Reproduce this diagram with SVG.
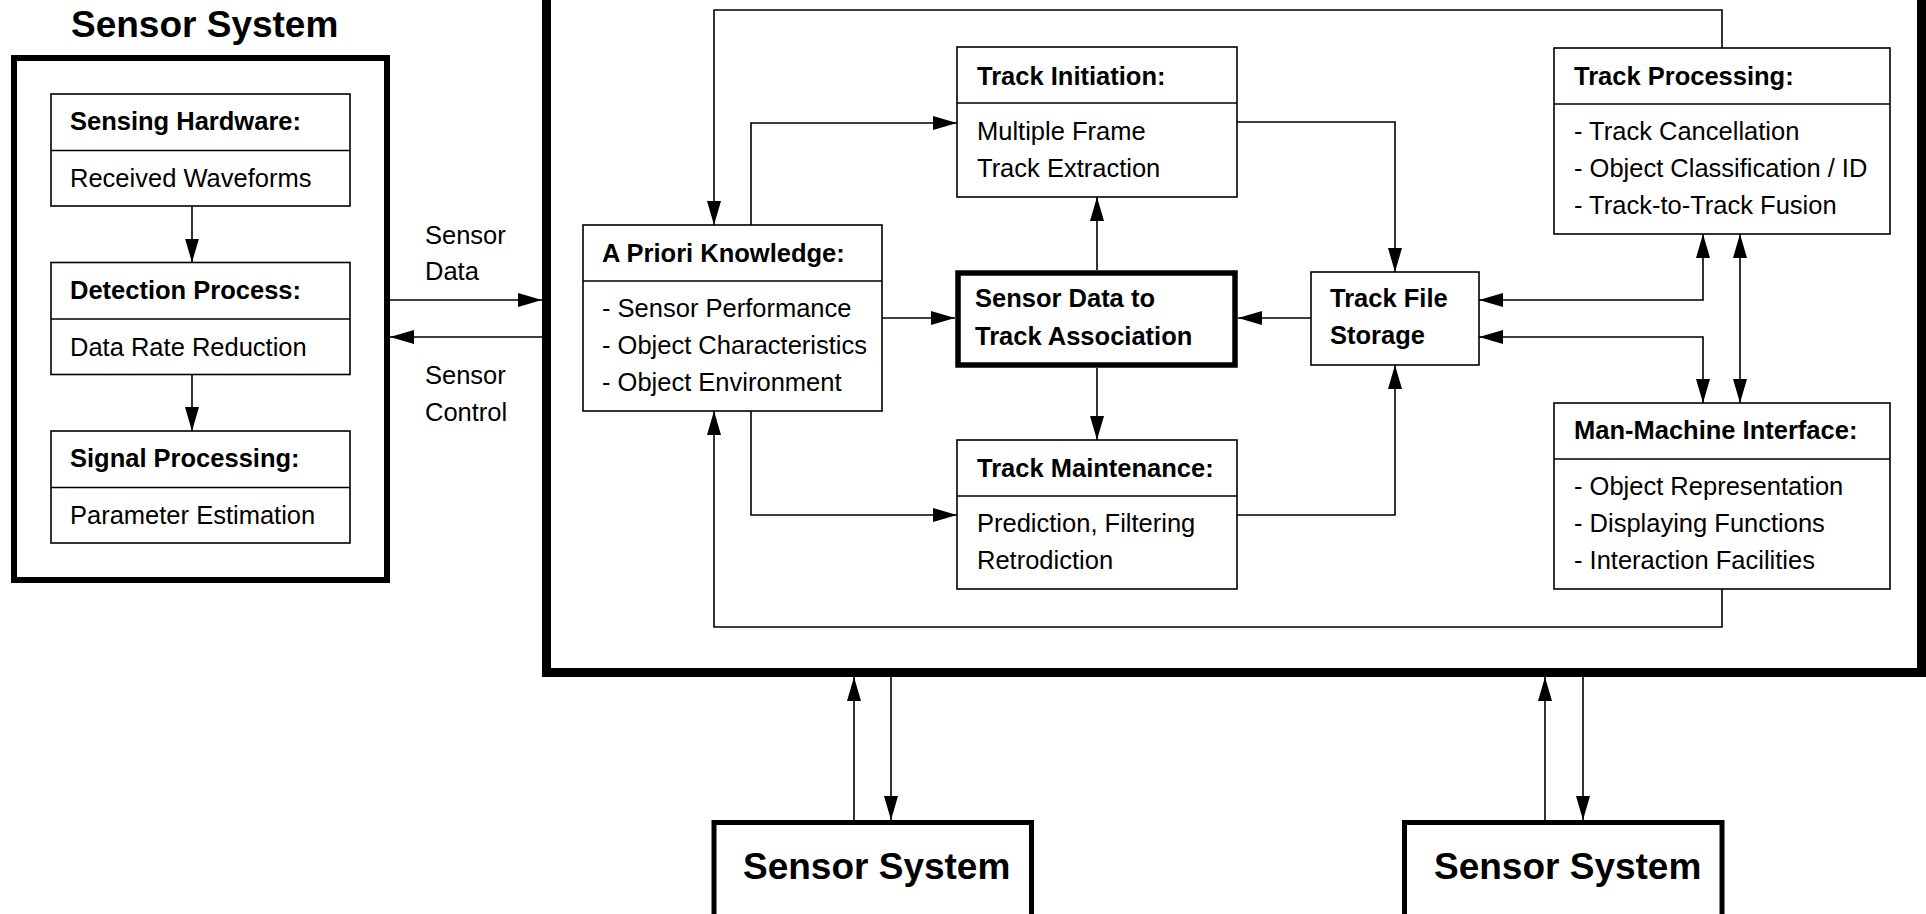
<svg xmlns="http://www.w3.org/2000/svg" width="1926" height="914" viewBox="0 0 1926 914">
<style>
.box{fill:#fff;stroke:#000;stroke-width:1.6}
.div{stroke:#000;stroke-width:1.6}
.thick{fill:none;stroke:#000}
.b{font-family:"Liberation Sans",Arial,Helvetica,sans-serif;font-weight:bold;font-size:25.5px;fill:#000}
.r{font-family:"Liberation Sans",Arial,Helvetica,sans-serif;font-size:25.5px;fill:#000}
.t{font-family:"Liberation Sans",Arial,Helvetica,sans-serif;font-weight:bold;font-size:37px;fill:#000}
.c{fill:none;stroke:#000;stroke-width:1.6}
.c.e{marker-end:url(#ah)}
.c.s{marker-start:url(#ahs)}
</style>
<defs>
<marker id="ah" markerUnits="userSpaceOnUse" markerWidth="24" markerHeight="14" refX="24" refY="7" orient="auto">
<path d="M0,0 L24,7 L0,14 z" fill="#000"/>
</marker>
<marker id="ahs" markerUnits="userSpaceOnUse" markerWidth="24" markerHeight="14" refX="24" refY="7" orient="auto-start-reverse">
<path d="M0,0 L24,7 L0,14 z" fill="#000"/>
</marker>
</defs>
<rect width="1926" height="914" fill="#fff"/>

<g id="fusion-center">
<rect class="thick" x="546.5" y="-30" width="1375" height="702.5" stroke-width="9"/>
</g>

<g id="sensor-system-left">
<text class="t" x="71" y="37">Sensor System</text>
<rect class="thick" x="14" y="58" width="373" height="522" stroke-width="6"/>
</g>
<g id="sensing-hardware">
<rect class="box" x="51" y="94" width="299" height="112"/>
<line class="div" x1="51" y1="150.5" x2="350" y2="150.5"/>
<text class="b" x="70" y="130">Sensing Hardware:</text>
<text class="r" x="70" y="187">Received Waveforms</text>
</g>
<g id="detection-process">
<rect class="box" x="51" y="262.5" width="299" height="112"/>
<line class="div" x1="51" y1="319" x2="350" y2="319"/>
<text class="b" x="70" y="298.5">Detection Process:</text>
<text class="r" x="70" y="355.5">Data Rate Reduction</text>
</g>
<g id="signal-processing">
<rect class="box" x="51" y="431" width="299" height="112"/>
<line class="div" x1="51" y1="487.5" x2="350" y2="487.5"/>
<text class="b" x="70" y="467">Signal Processing:</text>
<text class="r" x="70" y="524">Parameter Estimation</text>
</g>

<g id="a-priori">
<rect class="box" x="583" y="225" width="299" height="186"/>
<line class="div" x1="583" y1="281" x2="882" y2="281"/>
<text class="b" x="602" y="262">A Priori Knowledge:</text>
<text class="r" x="602" y="317">- Sensor Performance</text>
<text class="r" x="602" y="354">- Object Characteristics</text>
<text class="r" x="602" y="391">- Object Environment</text>
</g>
<g id="track-initiation">
<rect class="box" x="957" y="47" width="280" height="150"/>
<line class="div" x1="957" y1="103" x2="1237" y2="103"/>
<text class="b" x="977" y="85">Track Initiation:</text>
<text class="r" x="977" y="140">Multiple Frame</text>
<text class="r" x="977" y="177">Track Extraction</text>
</g>
<g id="association">
<rect class="thick" x="958" y="273" width="277" height="92" stroke-width="5.5" fill="#fff"/>
<text class="b" x="975" y="307">Sensor Data to</text>
<text class="b" x="975" y="345">Track Association</text>
</g>
<g id="track-maintenance">
<rect class="box" x="957" y="440" width="280" height="149"/>
<line class="div" x1="957" y1="496" x2="1237" y2="496"/>
<text class="b" x="977" y="477">Track Maintenance:</text>
<text class="r" x="977" y="532">Prediction, Filtering</text>
<text class="r" x="977" y="569">Retrodiction</text>
</g>
<g id="track-file-storage">
<rect class="box" x="1311" y="272" width="168" height="93"/>
<text class="b" x="1330" y="307">Track File</text>
<text class="b" x="1330" y="344">Storage</text>
</g>
<g id="track-processing">
<rect class="box" x="1554" y="48" width="336" height="186"/>
<line class="div" x1="1554" y1="104" x2="1890" y2="104"/>
<text class="b" x="1574" y="85">Track Processing:</text>
<text class="r" x="1574" y="140">- Track Cancellation</text>
<text class="r" x="1574" y="177">- Object Classification / ID</text>
<text class="r" x="1574" y="214">- Track-to-Track Fusion</text>
</g>
<g id="man-machine-interface">
<rect class="box" x="1554" y="403" width="336" height="186"/>
<line class="div" x1="1554" y1="459" x2="1890" y2="459"/>
<text class="b" x="1574" y="439">Man-Machine Interface:</text>
<text class="r" x="1574" y="495">- Object Representation</text>
<text class="r" x="1574" y="532">- Displaying Functions</text>
<text class="r" x="1574" y="569">- Interaction Facilities</text>
</g>

<g id="sensor-system-bottom-1">
<rect class="thick" x="714" y="822.5" width="317.5" height="200" stroke-width="5" fill="#fff"/>
<text class="t" x="743" y="879">Sensor System</text>
</g>
<g id="sensor-system-bottom-2">
<rect class="thick" x="1404.5" y="822.5" width="317.5" height="200" stroke-width="5" fill="#fff"/>
<text class="t" x="1434" y="879">Sensor System</text>
</g>

<g id="connectors">
<path class="c e" d="M192,206 V262.5"/>
<path class="c e" d="M192,374.5 V431"/>
<path class="c e" d="M390,300 H542"/>
<path class="c e" d="M542,337 H390"/>
<text class="r" x="425" y="244">Sensor</text>
<text class="r" x="425" y="280">Data</text>
<text class="r" x="425" y="384">Sensor</text>
<text class="r" x="425" y="421">Control</text>
<path class="c e" d="M882,318 H955"/>
<path class="c e" d="M1097,270 V197"/>
<path class="c e" d="M1097,368 V440"/>
<path class="c e" d="M751,225 V123 H957"/>
<path class="c e" d="M751,411 V515 H957"/>
<path class="c e" d="M1237,122 H1395 V272"/>
<path class="c e" d="M1237,515 H1395 V365"/>
<path class="c e" d="M1311,318 H1238"/>
<path class="c e" d="M1722,48 V10 H714 V225"/>
<path class="c e" d="M1722,589 V627 H714 V411"/>
<path class="c e s" d="M1703,234 V300 H1479"/>
<path class="c e s" d="M1479,337 H1703 V403"/>
<path class="c e s" d="M1740,234 V403"/>
<path class="c e" d="M854,820 V677"/>
<path class="c e" d="M891,677 V820"/>
<path class="c e" d="M1545,820 V677"/>
<path class="c e" d="M1583,677 V820"/>
</g>
</svg>
